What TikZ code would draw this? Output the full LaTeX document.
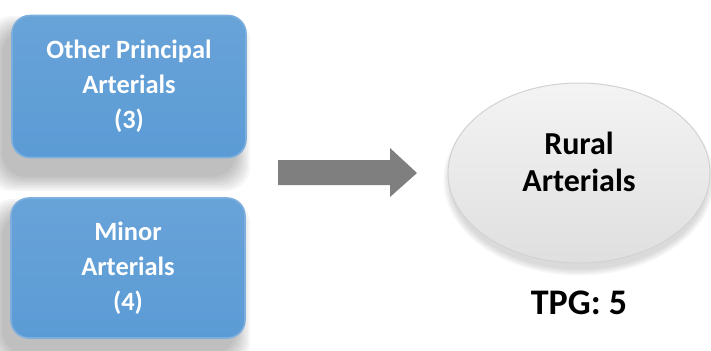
\documentclass[tikz,border=0pt]{standalone}
\usepackage{fontspec}
\setmainfont{Carlito}
\usetikzlibrary{shapes.geometric,positioning}
\definecolor{boxblue}{HTML}{5B9BD5}
\definecolor{arrowgray}{HTML}{7F7F7F}
\tikzset{
  classbox/.style={rounded corners=9pt, minimum width=117pt, minimum height=71pt,
    top color=boxblue!92!white, bottom color=boxblue, draw=boxblue!80!white,
    line width=0.8pt, text=white, align=center,
    font=\bfseries\fontsize{13.2}{17.5}\selectfont},
  groupnode/.style={ellipse, minimum width=131pt, minimum height=90pt,
    top color=gray!9, bottom color=gray!25, draw=gray!35, line width=0.5pt},
  grouptext/.style={align=center, font=\bfseries\fontsize{16}{18.5}\selectfont},
  tpgtext/.style={font=\bfseries\fontsize{18}{20}\selectfont},
  blur/.style={black, opacity=0.035, rounded corners=12pt}
}
\begin{document}
\begin{tikzpicture}[x=0.5pt, y=-0.5pt]
  \useasboundingbox (0,0) rectangle (711,350);
  % soft shadows behind the boxes
  \foreach \ya/\yb in {32/175, 215/352}
    \foreach \i in {1,...,8}
      \fill[blur] (4-\i*2, \ya-\i*2) rectangle (234+\i*2, \yb+\i*2);
  \foreach \i in {1,...,5}
    \fill[black, opacity=0.03] (579,180) ellipse [x radius=128+\i*1.5, y radius=88+\i*1.5];

  \node[classbox] (principal) at (129,86.5) {Other Principal\\Arterials\\(3)};
  \node[classbox, minimum height=70pt] (minor) at (128,268) {Minor\\Arterials\\(4)};

  % block arrow
  \fill[arrowgray] (278,160) -- (390,160) -- (390,148) -- (417,173)
    -- (390,197) -- (390,185) -- (278,185) -- cycle;

  \node[groupnode] (rural) at (579,173) {};
  \node[grouptext] (ruraltext) at (579,162) {Rural\\Arterials};
  \node[tpgtext] (tpg) at (579,303) {TPG: 5};
\end{tikzpicture}
\end{document}
